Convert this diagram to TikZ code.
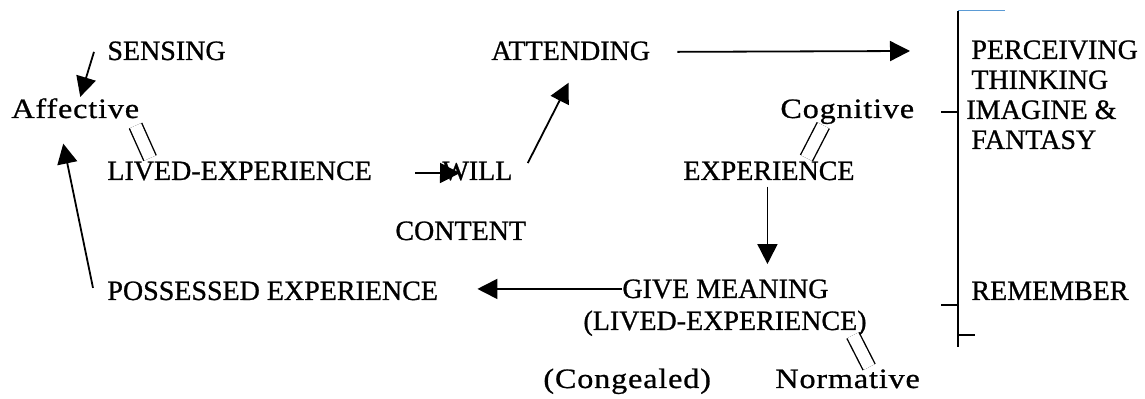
\documentclass[tikz,border=0pt]{standalone}
\usepackage{fontspec}
\setmainfont{Liberation Serif}[FakeBold=0.8]
\newfontfamily\lowfont{Liberation Serif}[FakeStretch=1.15,LetterSpace=3,FakeBold=0.8]
\usepackage{tikz}
\usetikzlibrary{arrows.meta,calc}
\definecolor{RuleBlue}{HTML}{5B9BD5}

\begin{document}
\begin{tikzpicture}[
  x=0.5pt,y=-0.5pt,
  lbl/.style={inner sep=0pt,anchor=base west,font=\fontsize{14}{15}\selectfont},
  low/.style={lbl,font=\fontsize{14}{15}\selectfont\lowfont},
  a/.style={-{Triangle[length=10pt,width=10pt]},line width=0.9pt},
  eq/.style={double,double distance=6pt,line width=0.7pt}
]
  \useasboundingbox (0,0) rectangle (1145,399);
  % left side
  \node[lbl] (sens) at (107,60) {SENSING};
  \node[low] (aff) at (11,118) {Affective};
  \node[lbl] (lived) at (107,180) {LIVED-EXPERIENCE};
  \node[lbl] (poss) at (107,300) {POSSESSED EXPERIENCE};
  % middle
  \node[lbl] (att) at (491,60) {ATTENDING};
  \node[lbl] (will) at (442,180) {WILL};
  \node[lbl] (cont) at (395,240) {CONTENT};
  \node[lbl] (exper) at (683,180) {EXPERIENCE};
  \node[low] (cog) at (780,118) {Cognitive};
  \node[lbl] (give) at (622,298) {GIVE MEANING};
  \node[lbl,anchor=base] (givesub) at (725,330) {(LIVED-EXPERIENCE)};
  \node[low] (cong) at (543,388) {(Congealed)};
  \node[low] (norm) at (775,388) {Normative};
  % right side
  \node[lbl,anchor=north west,align=left] (perc) at (971,40)
    {PERCEIVING\\THINKING\\\hspace*{-2.5pt}IMAGINE \&\\FANTASY};
  \node[lbl] (rem) at (971,300) {REMEMBER};

  \draw[a] ($(sens.west)+(-13,1)$) -- ($(aff.north)+(5,-1)$);
  \draw[a] ($(poss.west)+(-14,-3)$) -- ($(aff.south)+(-12,25)$);
  \draw[eq] ($(aff.south east)+(-4,7)$) -- ($(lived.north west)+(43,-3)$);
  \draw[a] ($(lived.east)+(43,2)$) -- ($(will.west)+(18,2)$);
  \draw[a] ($(will.east)+(15,-8)$) -- ($(att.south)+(-2,22)$);
  \draw[a] ($(att.east)+(27,1)$) -- ($(perc.north west)+(-61,11)$);
  \draw[eq] ($(cog.south)+(-24,1)$) -- ($(exper.north)+(37.5,-3)$);
  \draw[a] ($(exper.south)+(-1.5,6)$) -- ($(exper.south |- give.north)+(-1.5,-15)$);
  \draw[a,shorten >=19.5pt] (give.west) -- (give.west -| poss.east);
  \draw[eq] ($(givesub.south east)+(-14,-1)$) -- ($(norm.north)+(21.5,-2)$);

  % bracket
  \draw[line width=0.9pt] (958,11) -- (958,347);
  \draw[line width=0.9pt] (941,112) -- (958,112);
  \draw[line width=0.9pt] (941,305) -- (958,305);
  \draw[line width=0.9pt] (958,335) -- (975,335);
  \draw[RuleBlue,line width=0.5pt] (958,11) -- (1005,11);
\end{tikzpicture}
\end{document}
